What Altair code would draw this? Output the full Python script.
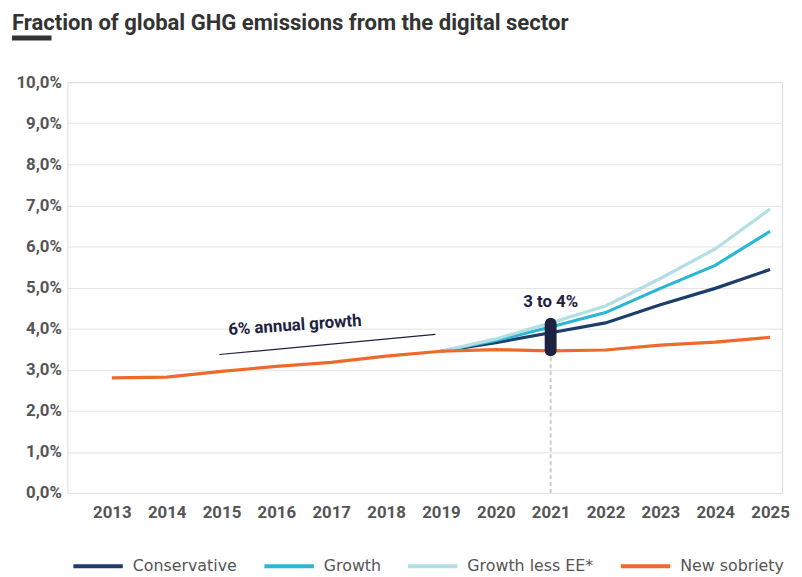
import altair as alt
import pandas as pd

years_hist = [2013, 2014, 2015, 2016, 2017, 2018, 2019]
sobriety_hist = [2.80, 2.82, 2.96, 3.08, 3.18, 3.33, 3.45]

years_proj = [2019, 2020, 2021, 2022, 2023, 2024, 2025]
conservative = [3.45, 3.66, 3.90, 4.14, 4.58, 4.98, 5.44]
growth = [3.45, 3.71, 4.04, 4.39, 4.98, 5.54, 6.37]
growth_less_ee = [3.45, 3.75, 4.14, 4.55, 5.22, 5.94, 6.91]
sobriety_proj = [3.45, 3.49, 3.46, 3.48, 3.60, 3.67, 3.79]

series_names = ["Conservative", "Growth", "Growth less EE*", "New sobriety"]
series_colors = ["#1d3d6b", "#2bb7d3", "#b3dfe4", "#ee6a2b"]

rows = []
for n, vals in zip(series_names[:3], [conservative, growth, growth_less_ee]):
    for yr, v in zip(years_proj, vals):
        rows.append({"year": yr, "value": v, "series": n})
for yr, v in zip(years_hist[:-1] + years_proj, sobriety_hist[:-1] + sobriety_proj):
    rows.append({"year": yr, "value": v, "series": "New sobriety"})
df = pd.DataFrame(rows)

# annotations
growth_note_x = [2014.96, 2018.9]
growth_note_y = [3.37, 3.86]
growth_text = ["6% annual growth"]
growth_text_x = [2016.35]
growth_text_y = [3.86]

range_year = [2021]
range_low = [3.47]
range_high = [4.12]
range_label = ["3 to 4%"]
range_label_y = [4.64]

title_text = ["Fraction of global GHG emissions from the digital sector"]

x_ticks = list(range(2013, 2026))
y_ticks = [0, 1, 2, 3, 4, 5, 6, 7, 8, 9, 10]

FONT = "Roboto"
LEGEND_FONT = "DejaVu Sans"
GRAY = "#555555"
NAVY = "#1c2240"

xscale = alt.Scale(domain=[2012.19, 2025.22], nice=False, zero=False)
yscale = alt.Scale(domain=[0, 10], nice=False)

xaxis = alt.Axis(values=x_ticks, format="d", title=None, grid=False, ticks=False,
                 domain=False, labelFont=FONT, labelFontSize=17, labelFontWeight="bold",
                 labelColor=GRAY, labelPadding=12)
yaxis = alt.Axis(values=y_ticks, title=None, ticks=False, domain=False,
                 labelExpr="replace(format(datum.value, '.1f'), '.', ',') + '%'",
                 labelFont=FONT, labelFontSize=17, labelFontWeight="bold",
                 labelColor=GRAY, labelPadding=6, gridColor="#e3e3e3", gridWidth=1)

base = alt.Chart(df)

dash_df = pd.DataFrame({"year": range_year, "low": [0], "high": range_low})
dashed = alt.Chart(dash_df).mark_rule(color="#cccccc", strokeWidth=2, strokeDash=[4, 3]).encode(
    x=alt.X("year:Q", scale=xscale, axis=xaxis),
    y=alt.Y("low:Q", scale=yscale, axis=yaxis),
    y2="high:Q",
)

lines = base.mark_line(strokeWidth=3.2).encode(
    x=alt.X("year:Q", scale=xscale, axis=xaxis),
    y=alt.Y("value:Q", scale=yscale, axis=yaxis),
    color=alt.Color("series:N", scale=alt.Scale(domain=series_names, range=series_colors),
                    legend=alt.Legend(title=None, orient="none", direction="horizontal",
                                      legendX=4, legendY=462, symbolType="stroke",
                                      symbolSize=2500, symbolStrokeWidth=4,
                                      labelFont=LEGEND_FONT, labelFontSize=16, labelColor=GRAY,
                                      labelOffset=8, columnPadding=19, gridAlign="none")),
)

note_df = pd.DataFrame({"x": growth_note_x, "y": growth_note_y})
note_line = alt.Chart(note_df).mark_line(color=NAVY, strokeWidth=1.2).encode(
    x=alt.X("x:Q", scale=xscale), y=alt.Y("y:Q", scale=yscale))

note_text_df = pd.DataFrame({"x": growth_text_x, "y": growth_text_y, "t": growth_text})
note_text = alt.Chart(note_text_df).mark_text(
    font=FONT, fontSize=17, fontWeight="bold", color=NAVY, angle=356, baseline="bottom"
).encode(x=alt.X("x:Q", scale=xscale), y=alt.Y("y:Q", scale=yscale), text="t:N")

bar_df = pd.DataFrame({"year": range_year, "low": range_low, "high": range_high, "t": range_label,
                       "ty": range_label_y})
bar = alt.Chart(bar_df).mark_rule(color=NAVY, strokeWidth=12, strokeCap="round").encode(
    x=alt.X("year:Q", scale=xscale), y=alt.Y("low:Q", scale=yscale), y2="high:Q")
bar_text = alt.Chart(bar_df).mark_text(
    font=FONT, fontSize=17, fontWeight="bold", color=NAVY, baseline="middle"
).encode(x=alt.X("year:Q", scale=xscale), y=alt.Y("ty:Q", scale=yscale), text="t:N")

underline = alt.Chart(pd.DataFrame({"a": [0]})).mark_rule(color="#333333", strokeWidth=5).encode(
    x=alt.value(-56), x2=alt.value(-16), y=alt.value(-44.5))

title = alt.Chart(pd.DataFrame({"t": title_text})).mark_text(
    font=FONT, fontSize=22.3, fontWeight="bold", color="#333333", align="left", baseline="alphabetic"
).encode(x=alt.value(-56), y=alt.value(-53), text="t:N")

chart = alt.layer(dashed, lines, note_line, note_text, bar, bar_text, underline, title).properties(
    width=722, height=415,
    autosize=alt.AutoSizeParams(type="none"),
    padding={"left": 60, "top": 72, "right": 12, "bottom": 82},
).configure_view(stroke=None).configure(background="white")

chart.save("out.html", embed_options={"renderer": "svg", "actions": False})
